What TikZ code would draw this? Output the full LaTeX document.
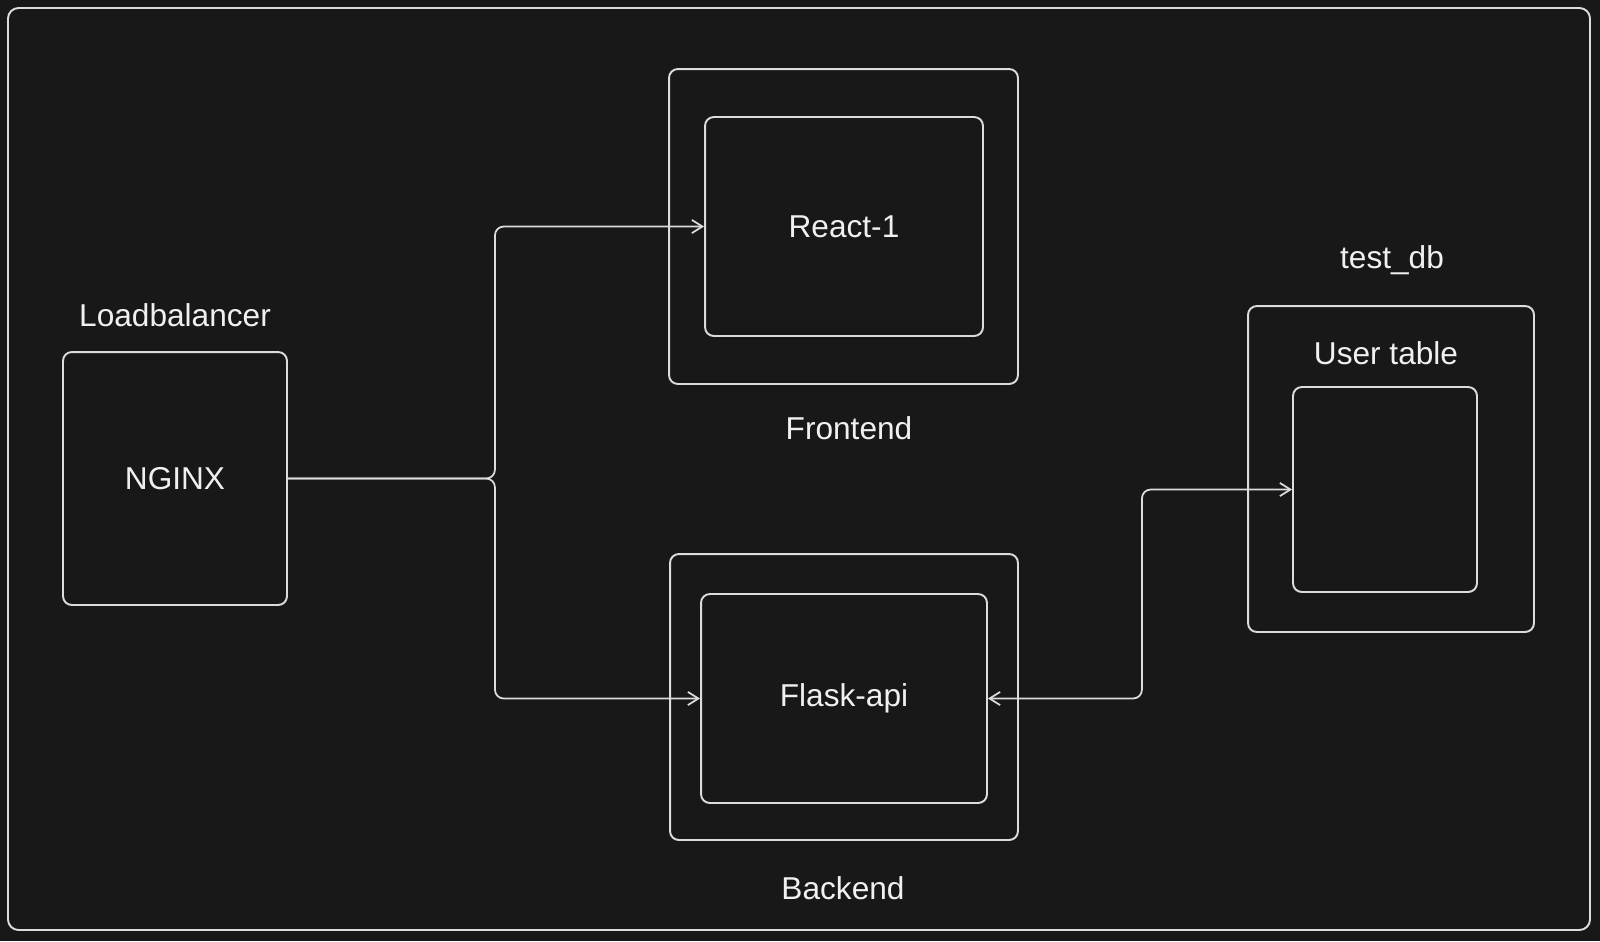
\documentclass[tikz,border=0pt]{standalone}
\usepackage{fontspec}
\setmainfont{Liberation Sans}
\usetikzlibrary{arrows.meta}
\definecolor{bgdark}{HTML}{181818}
\definecolor{strokegray}{HTML}{DCDCDC}
\definecolor{textwhite}{HTML}{F0F0F0}
\tikzset{
	box/.style={draw=strokegray, line width=1.1pt, rounded corners=5pt, inner sep=0pt, text=textwhite, font=\fontsize{18}{22}\selectfont},
	lbl/.style={text=textwhite, font=\fontsize{18}{22}\selectfont},
	conn/.style={draw=strokegray, line width=1pt, rounded corners=5pt},
	barb/.tip={Straight Barb[length=6pt, width=7.5pt]},
}

\begin{document}
\begin{tikzpicture}[x=0.02cm, y=-0.02cm]
		%%%%% START %%%%%
		
		\fill[bgdark] (0, 0) rectangle (1600, 941);
		\useasboundingbox (0, 0) rectangle (1600, 941);
		\draw[strokegray, line width=1.1pt, rounded corners=6pt] (8, 8) rectangle (1590, 930);
		
		% loadbalancer
		\node[box, minimum width=4.48cm, minimum height=5.06cm] (nginx) at (175, 478.5) {NGINX};
		\node[lbl] (lbtitle) at (175, 315) {Loadbalancer};
		
		% frontend
		\node[box, minimum width=6.98cm, minimum height=6.30cm] (frontend) at (843.5, 226.5) {};
		\node[box, minimum width=5.56cm, minimum height=4.38cm] (react) at (844, 226.5) {React-1};
		\node[lbl] (fetitle) at (849, 428) {Frontend};
		
		% backend
		\node[box, minimum width=6.96cm, minimum height=5.72cm] (backend) at (844, 697) {};
		\node[box, minimum width=5.72cm, minimum height=4.18cm] (flask) at (844, 698.5) {Flask-api};
		\node[lbl] (betitle) at (843, 888) {Backend};
		
		% database
		\node[box, minimum width=5.72cm, minimum height=6.52cm] (testdb) at (1391, 469) {};
		\node[box, minimum width=3.68cm, minimum height=4.10cm] (usertable) at (1385, 489.5) {};
		\node[lbl] (dbtitle) at (1392, 260) {test\_db};
		\node[lbl] (uttitle) at (1386, 353) {User table};
		
		% connectors
		\draw[conn, -barb] (nginx.east) -- ++(207, 0) |- (react.west);
		\draw[conn, -barb] (nginx.east) -- ++(207, 0) |- (flask.west);
		\draw[conn, barb-barb] (flask.east) -- ++(154, 0) |- (usertable.west);
		
		%%%%% END %%%%%
\end{tikzpicture}
\end{document}
